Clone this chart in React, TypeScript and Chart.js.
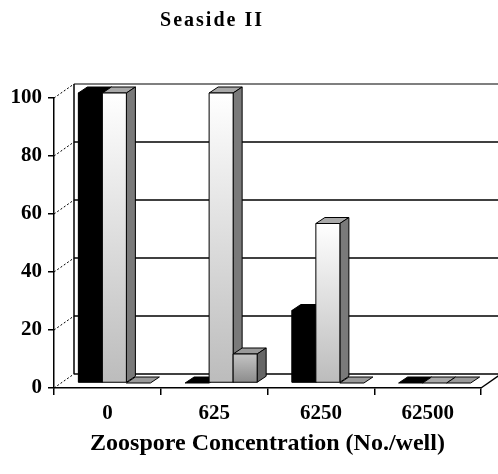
import React, { useEffect, useRef } from 'react';
import { Chart, registerables } from 'chart.js';

Chart.register(...registerables);

const TITLE = 'Seaside II';
const X_TITLE = 'Zoospore Concentration (No./well)';
const CATEGORIES = ['0', '625', '6250', '62500'];
const SERIES_BLACK = [100, 0, 25, 0];
const SERIES_WHITE = [100, 100, 55, 0];
const SERIES_GRAY = [0, 10, 0, 0];
const Y_MIN = 0;
const Y_MAX = 100;
const Y_STEP = 20;

const FONT = '"Liberation Serif", "Times New Roman", serif';

// 3D look
const WALL_DX = 20;
const WALL_DY = -14;
const BAR_SHIFT_X = 7;
const BAR_SHIFT_Y = -5;
const BAR_DX = 9;
const BAR_DY = -6;

const STYLES = [
  { front: ['#000000', '#000000'], top: '#000000', side: '#000000' },
  { front: ['#ffffff', '#bcbcbc'], top: '#a8a8a8', side: '#7a7a7a' },
  { front: ['#c4c4c4', '#8c8c8c'], top: '#9a9a9a', side: '#666666' },
];

function poly(ctx: CanvasRenderingContext2D, pts: number[][], fill: string | CanvasGradient) {
  ctx.beginPath();
  ctx.moveTo(pts[0][0], pts[0][1]);
  for (let i = 1; i < pts.length; i++) ctx.lineTo(pts[i][0], pts[i][1]);
  ctx.closePath();
  ctx.fillStyle = fill;
  ctx.fill();
  ctx.stroke();
}

const threeD = {
  id: 'threeD',
  beforeDatasetsDraw(chart: any) {
    const { ctx, chartArea } = chart;
    const y = chart.scales.y;
    ctx.save();
    ctx.strokeStyle = '#000';
    y.ticks.forEach((t: any, i: number) => {
      const py = y.getPixelForValue(t.value);
      ctx.lineWidth = 1;
      ctx.setLineDash([2, 2]);
      ctx.beginPath();
      ctx.moveTo(chartArea.left, py);
      ctx.lineTo(chartArea.left + WALL_DX, py + WALL_DY);
      ctx.stroke();
      ctx.setLineDash([]);
      ctx.lineWidth = 1.5;
      ctx.strokeStyle = i === y.ticks.length - 1 ? '#555' : '#000';
      ctx.beginPath();
      ctx.moveTo(chartArea.left + WALL_DX, py + WALL_DY);
      ctx.lineTo(chart.width, py + WALL_DY);
      ctx.stroke();
      ctx.strokeStyle = '#000';
    });
    ctx.lineWidth = 1.5;
    ctx.beginPath();
    ctx.moveTo(chartArea.left + WALL_DX, chartArea.top + WALL_DY);
    ctx.lineTo(chartArea.left + WALL_DX, chartArea.bottom + WALL_DY);
    ctx.stroke();
    ctx.beginPath();
    ctx.moveTo(chartArea.right, chartArea.bottom);
    ctx.lineTo(chartArea.right + WALL_DX, chartArea.bottom + WALL_DY);
    ctx.stroke();
    ctx.restore();
    ctx.save();
    ctx.translate(BAR_SHIFT_X, BAR_SHIFT_Y);
  },
  afterDatasetsDraw(chart: any) {
    const { ctx } = chart;
    ctx.lineWidth = 1;
    ctx.strokeStyle = '#000';
    ctx.lineJoin = 'miter';
    chart.data.datasets.forEach((_: any, di: number) => {
      const meta = chart.getDatasetMeta(di);
      const st = STYLES[di];
      meta.data.forEach((el: any) => {
        const p = el.getProps(['x', 'y', 'base', 'width'], true);
        const l = p.x - p.width / 2;
        const r = p.x + p.width / 2;
        const tp = Math.min(p.y, p.base);
        const bt = Math.max(p.y, p.base);
        poly(ctx, [[l, tp], [l + BAR_DX, tp + BAR_DY], [r + BAR_DX, tp + BAR_DY], [r, tp]], st.top);
        if (bt - tp > 0.5) {
          poly(ctx, [[r, tp], [r + BAR_DX, tp + BAR_DY], [r + BAR_DX, bt + BAR_DY], [r, bt]], st.side);
          const g = ctx.createLinearGradient(0, tp, 0, bt);
          g.addColorStop(0, st.front[0]);
          g.addColorStop(1, st.front[1]);
          poly(ctx, [[l, tp], [r, tp], [r, bt], [l, bt]], g);
        }
      });
    });
    ctx.restore();
  },
  afterDraw(chart: any) {
    const { ctx } = chart;
    ctx.save();
    ctx.font = `bold 20px ${FONT}`;
    (ctx as any).letterSpacing = '2px';
    ctx.fillStyle = '#000';
    ctx.textAlign = 'center';
    ctx.textBaseline = 'middle';
    ctx.fillText(TITLE, 212, 21);
    ctx.restore();
  },
};

export default function App() {
  const ref = useRef<HTMLCanvasElement>(null);
  useEffect(() => {
    const tickFont = { family: FONT, size: 21, weight: 'bold' as const };
    const chart = new Chart(ref.current!, {
      type: 'bar',
      data: {
        labels: CATEGORIES,
        datasets: [
          { data: SERIES_BLACK, backgroundColor: STYLES[0].front[0], borderWidth: 0 },
          { data: SERIES_WHITE, backgroundColor: STYLES[1].front[1], borderWidth: 0 },
          { data: SERIES_GRAY, backgroundColor: STYLES[2].front[1], borderWidth: 0 },
        ],
      },
      options: {
        animation: false,
        responsive: true,
        maintainAspectRatio: false,
        layout: { padding: { top: 98, right: 17, left: 0, bottom: 0 } },
        datasets: { bar: { barPercentage: 1, categoryPercentage: 0.675, clip: false as any } },
        plugins: {
          legend: { display: false },
          title: { display: false },
          tooltip: { enabled: false },
        },
        scales: {
          x: {
            type: 'category',
            offset: true,
            grid: { display: true, drawOnChartArea: false, drawTicks: true, tickLength: 7, offset: true, color: '#000', lineWidth: 1.5 },
            border: { display: true, color: '#000', width: 1.5 },
            ticks: { font: tickFont, color: '#000', padding: 6, maxRotation: 0 },
            title: {
              display: true,
              text: X_TITLE,
              color: '#000',
              font: { family: FONT, size: 24, weight: 'bold' },
              padding: { top: 0, bottom: 16 },
            },
            afterFit: (s: any) => { s.height = 86; },
          },
          y: {
            min: Y_MIN,
            max: Y_MAX,
            ticks: { stepSize: Y_STEP, font: tickFont, color: '#000', padding: 6 },
            grid: { display: true, drawOnChartArea: false, drawTicks: true, tickLength: 6, color: '#000', lineWidth: 1.5 },
            border: { display: true, color: '#000', width: 1.5 },
            afterFit: (s: any) => { s.width = 54; },
          },
        },
      },
      plugins: [threeD],
    });
    return () => chart.destroy();
  }, []);
  return (
    <div style={{ position: 'fixed', left: 0, top: 0, width: 498, height: 474 }}>
      <canvas ref={ref} />
    </div>
  );
}
